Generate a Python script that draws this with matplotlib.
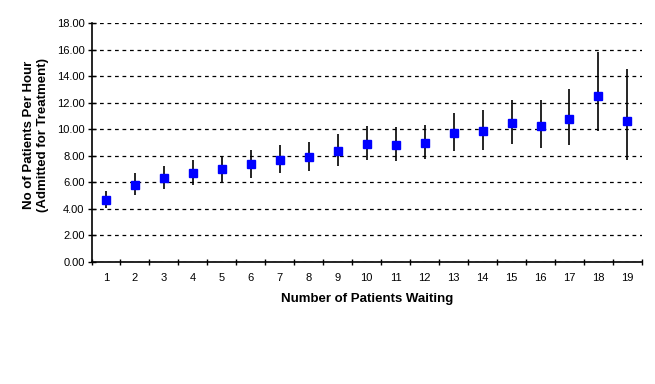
import numpy as np
import matplotlib
matplotlib.use('Agg')
import matplotlib.pyplot as plt
from matplotlib.ticker import FixedLocator, FormatStrFormatter

plt.rcParams['font.family'] = ['Liberation Sans', 'DejaVu Sans']

patients_waiting = list(range(1, 20))
rate_mean = [4.68, 5.78, 6.29, 6.67, 6.97, 7.35, 7.69, 7.87, 8.32, 8.85,
             8.78, 8.93, 9.68, 9.83, 10.44, 10.26, 10.74, 12.52, 10.59]
rate_low = [4.03, 5.03, 5.51, 5.81, 6.03, 6.31, 6.71, 6.86, 7.22, 7.67,
            7.62, 7.77, 8.37, 8.45, 8.90, 8.60, 8.82, 9.88, 7.69]
rate_high = [5.33, 6.69, 7.22, 7.67, 7.97, 8.42, 8.80, 9.03, 9.63, 10.23,
             10.13, 10.31, 11.21, 11.42, 12.19, 12.19, 13.02, 15.81, 14.53]

mean = np.array(rate_mean)
yerr = [mean - np.array(rate_low), np.array(rate_high) - mean]

fig = plt.figure(figsize=(6.55, 3.84), dpi=100)
ax = fig.add_axes([0.1397, 0.3185, 0.8403, 0.6215])

ax.errorbar(patients_waiting, rate_mean, yerr=yerr, fmt='s', color='blue',
            markersize=5.3, ecolor='black', elinewidth=1.2, capsize=0, zorder=3)

ax.set_xlim(0.5, 19.5)
ax.set_ylim(0, 18)
ax.set_yticks(np.arange(0, 18.1, 2))
ax.yaxis.set_major_formatter(FormatStrFormatter('%.2f'))
ax.yaxis.grid(True, linestyle=(0, (3, 3)), color='black', linewidth=0.9)
ax.set_axisbelow(True)

# ticks between categories, labels under the categories
ax.xaxis.set_major_locator(FixedLocator(np.arange(0.5, 19.6, 1)))
ax.xaxis.set_major_formatter(plt.NullFormatter())
ax.xaxis.set_minor_locator(FixedLocator(patients_waiting))
ax.set_xticklabels([str(p) for p in patients_waiting], minor=True)
ax.tick_params(axis='x', which='minor', length=0, pad=8, labelsize=8)
ax.tick_params(axis='x', which='major', length=5, width=1, direction='inout')
ax.tick_params(axis='y', length=6, width=1, labelsize=8, direction='inout', pad=2)

for s in ['top', 'right']:
    ax.spines[s].set_visible(False)
ax.spines['left'].set_linewidth(1.2)
ax.spines['bottom'].set_linewidth(1.2)

ax.set_xlabel('Number of Patients Waiting', fontsize=9.5, fontweight='bold', labelpad=7)
ax.set_ylabel('No of Patients Per Hour\n(Admitted for Treatment)', fontsize=9.5,
              fontweight='bold')
ax.yaxis.set_label_coords(-0.078, 0.53)

fig.savefig('out.png', dpi=100)
